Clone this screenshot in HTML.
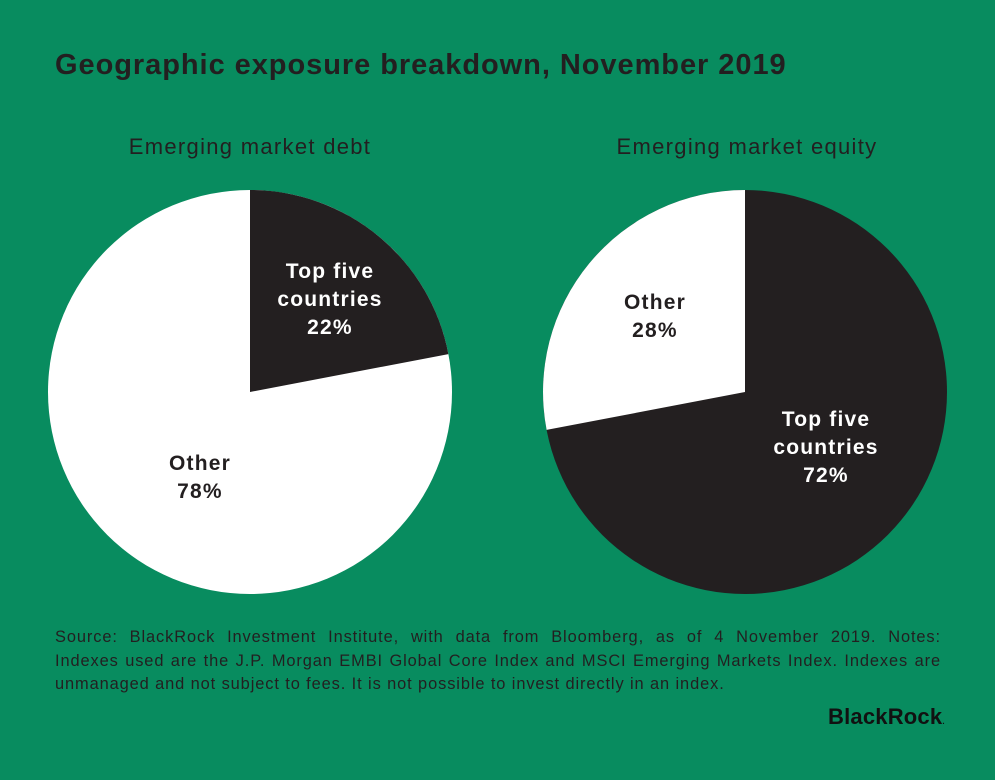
<!DOCTYPE html>
<html><head><meta charset="utf-8"><style>
body{margin:0;width:995px;height:780px;background:#088c5f;overflow:hidden;font-family:"Liberation Sans",sans-serif;color:#231f20;position:relative}
.t{position:absolute;left:55px;top:49px;font-size:29px;font-weight:bold;letter-spacing:0.95px}
.s{position:absolute;top:134px;font-size:22px;width:400px;text-align:center;letter-spacing:1.3px}
.src{position:absolute;left:55px;top:626px;width:886px;font-size:16.4px;line-height:23.5px;letter-spacing:0.9px}
.src div{text-align:justify;text-align-last:justify;white-space:nowrap}
.src div.l{text-align-last:left}
.logo{position:absolute;left:828px;top:704px;font-size:22px;font-weight:bold;letter-spacing:0.2px;color:#111}
</style></head><body>
<div class="t">Geographic exposure breakdown, November 2019</div>
<div class="s" style="left:50px">Emerging market debt</div>
<div class="s" style="left:547px">Emerging market equity</div>
<svg width="995" height="780" style="position:absolute;left:0;top:0">
<circle cx="250" cy="392" r="202" fill="#fff"/>
<path d="M250,392 L250,190 A202,202 0 0 1 448.4,354.1 Z" fill="#231f20"/>
<circle cx="745" cy="392" r="202" fill="#231f20"/>
<path d="M745,392 L546.6,429.9 A202,202 0 0 1 745,190 Z" fill="#fff"/>
<g font-family="Liberation Sans" font-weight="bold" font-size="21" letter-spacing="1.2" text-anchor="middle">
<text x="330" y="278" fill="#fff">Top five</text>
<text x="330" y="306" fill="#fff">countries</text>
<text x="330" y="334" fill="#fff">22%</text>
<text x="200" y="470" fill="#231f20">Other</text>
<text x="200" y="498" fill="#231f20">78%</text>
<text x="655" y="309" fill="#231f20">Other</text>
<text x="655" y="337" fill="#231f20">28%</text>
<text x="826" y="426" fill="#fff">Top five</text>
<text x="826" y="454" fill="#fff">countries</text>
<text x="826" y="482" fill="#fff">72%</text>
</g>
</svg>
<div class="src">
<div>Source: BlackRock Investment Institute, with data from Bloomberg, as of 4 November 2019. Notes:</div>
<div>Indexes used are the J.P. Morgan EMBI Global Core Index and MSCI Emerging Markets Index. Indexes are</div>
<div class="l">unmanaged and not subject to fees. It is not possible to invest directly in an index.</div>
</div>
<div class="logo">BlackRock<span style="font-size:8px">.</span></div>
</body></html>
